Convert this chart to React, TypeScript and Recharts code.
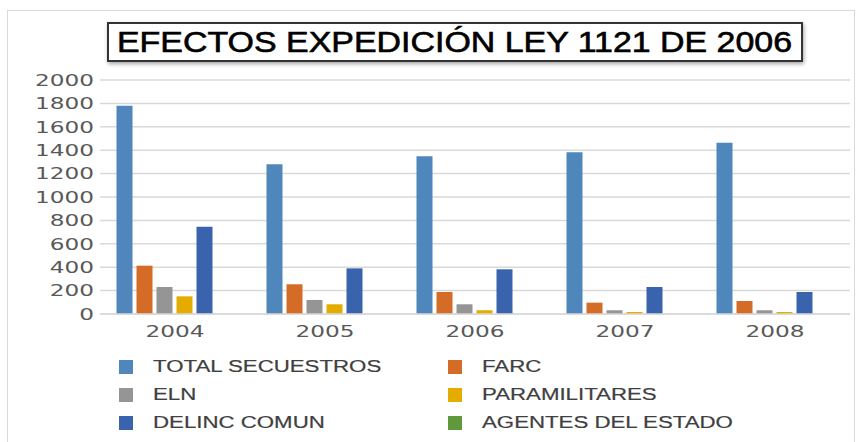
import React from 'react';
import { BarChart, Bar, XAxis, YAxis, CartesianGrid } from 'recharts';

const years = ['2004', '2005', '2006', '2007', '2008'];
const totalSecuestros = [1780, 1280, 1348, 1382, 1464];
const farc = [413, 254, 188, 97, 111];
const eln = [231, 120, 83, 32, 32];
const paramilitares = [151, 83, 32, 17, 17];
const delincComun = [746, 390, 382, 231, 188];
const agentesDelEstado = [0, 0, 0, 0, 0];
const yTicks = [0, 200, 400, 600, 800, 1000, 1200, 1400, 1600, 1800, 2000];

const series = [
  { key: 'total', name: 'TOTAL SECUESTROS', color: '#4f87bd', values: totalSecuestros },
  { key: 'farc', name: 'FARC', color: '#d46b27', values: farc },
  { key: 'eln', name: 'ELN', color: '#959595', values: eln },
  { key: 'para', name: 'PARAMILITARES', color: '#e5ac00', values: paramilitares },
  { key: 'delinc', name: 'DELINC COMUN', color: '#3a63ad', values: delincComun },
  { key: 'agentes', name: 'AGENTES DEL ESTADO', color: '#5e9a3c', values: agentesDelEstado },
];

const data = years.map((y, i) => {
  const row: Record<string, string | number> = { year: y };
  series.forEach((s) => { row[s.key] = s.values[i]; });
  return row;
});

const STRETCH = 1.45;

const YTick = (props: any) => {
  const { x, y, payload } = props;
  return (
    <g transform={`translate(${x},${y})`}>
      <text transform={`scale(${STRETCH},1)`} textAnchor="end" dy="0.36em" fill="#595959"
        fontSize={16} fontFamily="DejaVu Sans">{payload.value}</text>
    </g>
  );
};

const XTick = (props: any) => {
  const { x, y, payload } = props;
  return (
    <g transform={`translate(${x},${y})`}>
      <text transform={`scale(${STRETCH},1)`} textAnchor="middle" dy="0.71em" fill="#595959"
        fontSize={16} fontFamily="DejaVu Sans">{payload.value}</text>
    </g>
  );
};

export default function App() {
  return (
    <div style={{ position: 'absolute', left: 0, top: 0, width: 857, height: 442, background: '#fff', overflow: 'hidden' }}>
      <div style={{ position: 'absolute', left: 7, top: 10, width: 848, height: 440, border: '1px solid #d9d9d9', boxSizing: 'border-box' }} />
      <div style={{
        position: 'absolute', left: 107, top: 22, width: 696, height: 40, border: '2px solid #333',
        boxSizing: 'border-box', boxShadow: '1px 2px 4px rgba(0,0,0,0.35)', background: '#fff',
        display: 'flex', alignItems: 'center', justifyContent: 'center', zIndex: 2,
      }}>
        <span style={{ fontFamily: 'Liberation Sans', fontSize: 29, color: '#000', transform: 'scale(1.17,1)', whiteSpace: 'nowrap', display: 'inline-block', lineHeight: '36px', WebkitTextStroke: '0.6px #000' }}>
          EFECTOS EXPEDICIÓN LEY 1121 DE 2006
        </span>
      </div>
      <div style={{ position: 'absolute', left: 0, top: 0 }}>
        <BarChart width={857} height={442} data={data}
          margin={{ top: 80, right: 7, bottom: 98, left: 0 }}
          barCategoryGap="11%" barGap={4}>
          <CartesianGrid vertical={false} stroke="#d9d9d9" strokeWidth={1.5} />
          <XAxis dataKey="year" axisLine={{ stroke: '#d9d9d9', strokeWidth: 1.5 }} tickLine={false}
            tick={<XTick />} tickSize={0} tickMargin={12} height={30} />
          <YAxis domain={[0, 2000]} ticks={yTicks} axisLine={false} tickLine={false}
            tick={<YTick />} tickSize={0} tickMargin={6} width={100} interval={0} />
          {series.map((s) => (
            <Bar key={s.key} dataKey={s.key} name={s.name} fill={s.color} isAnimationActive={false} />
          ))}
        </BarChart>
      </div>
      {series.map((s, i) => {
        const col = i % 2;
        const row = Math.floor(i / 2);
        const left = col === 0 ? 119 : 448;
        const top = 367 + row * 28;
        return (
          <div key={s.key} style={{ position: 'absolute', left, top: top - 7 }}>
            <div style={{ position: 'absolute', left: 0, top: 0, width: 14, height: 14, background: s.color }} />
            <span style={{
              position: 'absolute', left: 34, top: -4, fontFamily: 'Liberation Sans', fontSize: 16,
              color: '#404040', whiteSpace: 'nowrap', transform: 'scale(1.39,1)', transformOrigin: 'left center',
              display: 'inline-block', lineHeight: '22px', WebkitTextStroke: '0.2px #404040',
            }}>{s.name}</span>
          </div>
        );
      })}
    </div>
  );
}
